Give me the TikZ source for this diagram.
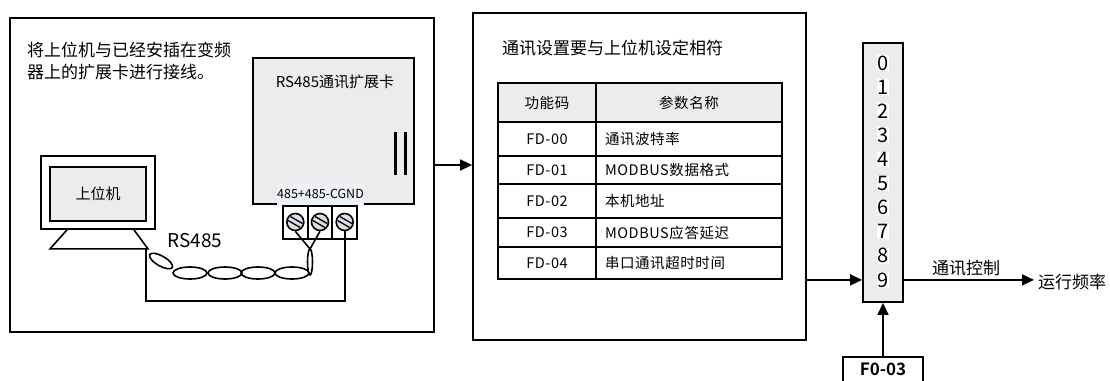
\documentclass[tikz,border=0pt]{standalone}
\usepackage{fontspec}
\setmainfont{Noto Sans CJK SC}[BoldFont={Noto Sans CJK SC Bold}]
\usetikzlibrary{arrows.meta}
\definecolor{panel}{HTML}{ECECEC}
\definecolor{screwfill}{HTML}{D9DEE7}
\definecolor{tagfill}{HTML}{EEF2F7}

\tikzset{
  frame/.style={draw, line width=1.8pt, inner sep=0pt},
  cell/.style={draw, line width=1.6pt, inner sep=0pt,
    font=\fontsize{14.5}{17}\selectfont\addfontfeatures{LetterSpace=4}},
  wire/.style={line width=1.6pt},
  arr/.style={line width=1.6pt, -{Triangle[length=12pt,width=11pt]}},
  screw/.style={circle, draw, line width=1.6pt, fill=screwfill, minimum size=17pt, inner sep=0pt},
  digit/.style={fill=white, inner sep=0.5pt, font=\fontsize{20}{22}\selectfont},
  big/.style={font=\fontsize{17}{22}\selectfont},
  mid/.style={font=\fontsize{15}{18}\selectfont}
}

\begin{document}
\begin{tikzpicture}[x=1pt,y=-1pt]
\useasboundingbox (0,0) rectangle (1110,380);

% three main panels
\node[frame, minimum width=424, minimum height=314] (pcbox) at (222,175) {};
\node[frame, minimum width=333, minimum height=327] (setbox) at (639.5,176.5) {};
\node[frame, fill=panel, minimum width=40, minimum height=259] (sel) at (883,172.5) {};

% left panel: host pc and card
\node[big, anchor=north west, align=left, inner sep=0pt] (intro) at (27,42)
  {将上位机与已经安插在变频\\器上的扩展卡进行接线。};

\node[frame, minimum width=114, minimum height=73] (pc) at (98,192.5) {};
\node[frame, fill=panel, minimum width=96, minimum height=54, mid] (screen) at (98,194) {上位机};
\draw[wire] ([xshift=-31pt]pc.south) -- ++(-17,19) coordinate (standl)
  -- ++(98,0) coordinate (standr) -- ([xshift=36pt]pc.south);

\node[frame, fill=panel, minimum width=161, minimum height=146] (card) at (333.5,131) {};
\node[mid] (cardname) at (335,82) {RS485通讯扩展卡};
\foreach \x in {395,405}
  \draw[line width=3pt] (\x,132) -- (\x,175);
\node[fill=tagfill, minimum width=76, minimum height=22, inner sep=0pt,
  font=\fontsize{12.5}{14}\selectfont] (pins) at (320.5,194) {485+485-CGND};

\foreach [count=\i] \x in {295.3,320,344.7} {
  \node[frame, minimum width=24.7, minimum height=33] (tb\i) at (\x,222.5) {};
  \node[screw] (s\i) at (\x,222) {};
  \begin{scope}[shift={(s\i.center)}, rotate=-30]
    \draw[line width=1.3pt] (-7,-2.3) -- (7,-2.3) (-7,2.3) -- (7,2.3);
  \end{scope}
}

% twisted pair and ground wire
\coordinate (junc) at (310,249);
\draw[wire] (s1.south) -- (junc) -- (s2.south);
\draw[wire] (310,262) ellipse [x radius=2.5, y radius=13];
\foreach \cx in {190,225,258,292}
  \draw[wire] (\cx,273) ellipse [x radius=17, y radius=6];
\draw[wire, rotate around={-30:(161,261)}] (161,261) ellipse [x radius=13, y radius=5];
\node[font=\fontsize{19}{22}\selectfont] (bus) at (195,241) {RS485};
\draw[wire] (s3.south) -- (s3 |- 0,301) -| ([xshift=-2pt]standr);

% middle panel: parameter table
\node[big, anchor=west, inner sep=0pt] (settitle) at (502,48) {通讯设置要与上位机设定相符};
\node[cell, fill=panel, minimum width=98, minimum height=39] (hcode) at (547,102.5) {功能码};
\node[cell, fill=panel, minimum width=186, minimum height=39] (hname) at (689,102.5) {参数名称};
\foreach [count=\i] \code/\name/\top/\bot in {
    FD-00/通讯波特率/122/156,
    FD-01/MODBUS数据格式/156/184,
    FD-02/本机地址/184/218,
    FD-03/MODBUS应答延迟/218/247,
    FD-04/串口通讯超时时间/247/279} {
  \node[cell, minimum width=98, minimum height=\bot-\top] (code\i) at (547,{(\top+\bot)/2}) {\code};
  \node[cell, minimum width=186, minimum height=\bot-\top, text width=168pt,
    inner xsep=9pt, align=left] (name\i) at (689,{(\top+\bot)/2}) {\name};
}

% right: source selector
\foreach \d in {0,...,9}
  \node[digit] (d\d) at (883,{63+24.1*\d}) {\d};
\draw[arr] (setbox.east |- d9) -- (sel.west |- d9);

\node[big, anchor=west, inner sep=0pt] (out) at (1038,282) {运行频率};
\draw[arr, shorten >=4pt] (sel.east |- d9) -- (out.west |- d9);
\node[big] (ctl) at (966,268) {通讯控制};

\node[frame, minimum width=80, minimum height=30] (f003) at (883,372) {};
\node[font=\fontsize{17}{20}\selectfont\bfseries] (f003txt) at (883,369) {F0-03};
\draw[arr] (f003) -- (sel);

% link between panels
\coordinate (link) at ([yshift=10pt]pcbox.east);
\draw[arr] (link) -- (setbox.west |- link);

\end{tikzpicture}
\end{document}
